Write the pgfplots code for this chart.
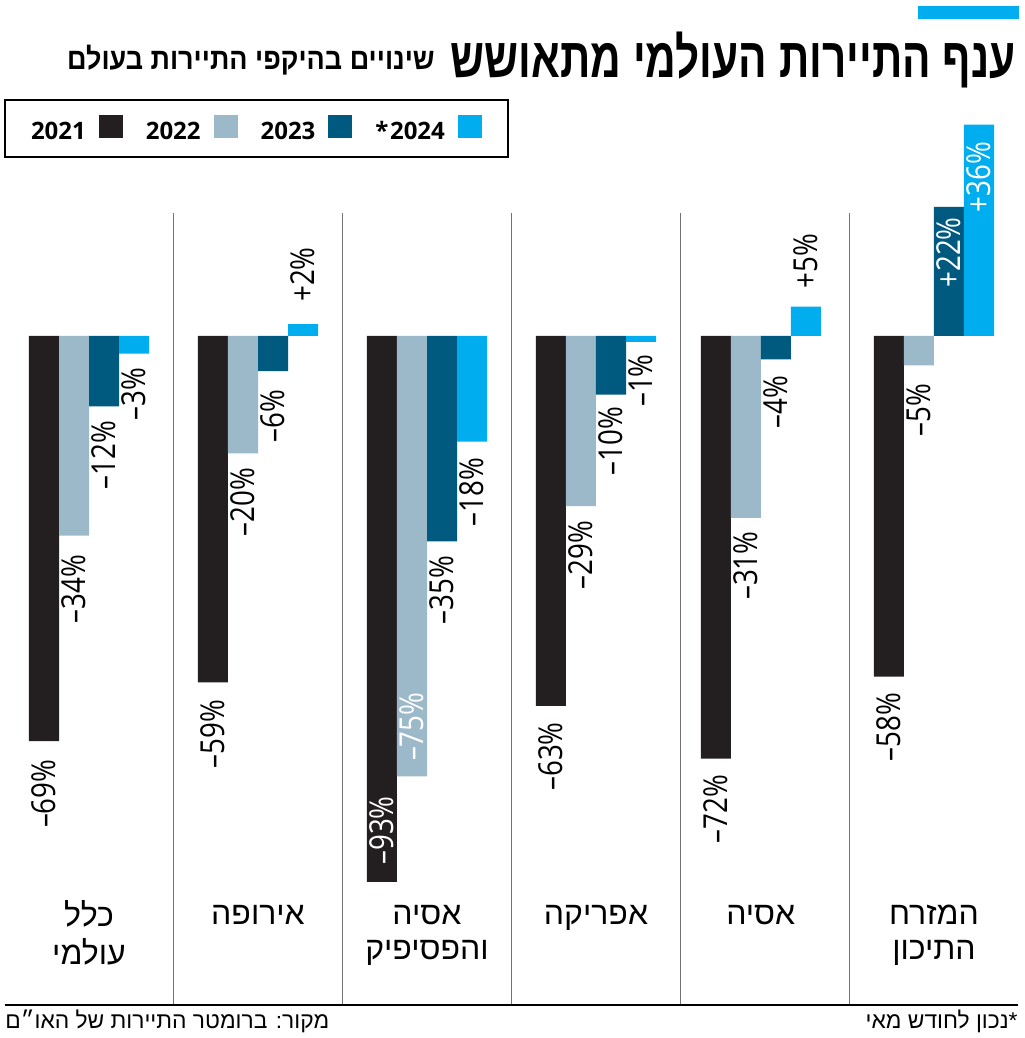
\documentclass[border=0pt]{standalone}
\usepackage{fontspec}
\usepackage{pgfplots}
\usepackage{pgfplotstable}
\pgfplotsset{compat=1.18}
\TeXXeTstate=1
\newfontfamily\hebfont[Script=Hebrew]{Liberation Sans}
\newfontfamily\hebtitle[Script=Hebrew,FakeStretch=0.755]{Liberation Sans}
\newfontfamily\hebsub[Script=Hebrew,FakeStretch=0.9]{Liberation Sans}
\newfontfamily\labfont[FakeStretch=0.84]{Open Sans}
\newfontfamily\legfont{Open Sans}
\definecolor{cA}{HTML}{231F20}
\definecolor{cB}{HTML}{9CB9CA}
\definecolor{cC}{HTML}{005A80}
\definecolor{cD}{HTML}{00AEEF}

% k: 0 = anchor east, 1 = anchor west ; w: 0 = black text, 1 = white text
\pgfplotstableread{
x y lab k w sep
0 -69 –69\% 0 0 9
1 -59 –59\% 0 0 8.5
2 -93 –93\% 1 1 8.5
3 -63 –63\% 0 0 8
3.975 -72 –72\% 0 0 8
5 -58 –58\% 0 0 8
}\tA
\pgfplotstableread{
x y lab k w sep
0 -34 –34\% 0 0 9.5
1 -20 –20\% 0 0 7
2 -75 –75\% 1 1 7.5
3 -29 –29\% 0 0 7
3.975 -31 –31\% 0 0 6.5
5 -5 –5\% 0 0 9
}\tB
\pgfplotstableread{
x y lab k w sep
0 -12 –12\% 0 0 7
1 -6 –6\% 0 0 9
2 -35 –35\% 0 0 7
3 -10 –10\% 0 0 6
3.975 -4 –4\% 0 0 8
5 22 +22\% 0 1 5
}\tC
\pgfplotstableread{
x y lab k w sep
0 -3 –3\% 0 0 7
1 2 +2\% 1 0 11
2 -18 –18\% 0 0 8
3 -1 –1\% 0 0 6
3.975 5 +5\% 1 0 9
5 36 +36\% 0 1 8.5
}\tD

\begin{document}
\begin{tikzpicture}[x=1pt,y=1pt]
\path[use as bounding box] (0,0) rectangle (512,519);
\fill[cD] (459,509.5) rectangle (509.5,516);
\node[anchor=base east, inner sep=0pt, font=\hebtitle\bfseries\fontsize{28}{30}\selectfont] at (508,480) {\beginR ענף התיירות העולמי מתאושש\endR};
\node[anchor=base east, inner sep=0pt, font=\hebsub\bfseries\fontsize{15}{17}\selectfont] at (217.5,484) {\beginR שינויים בהיקפי התיירות בעולם\endR};
\begin{axis}[
  at={(2.25pt,16.5pt)}, anchor=south west,
  scale only axis, width=507pt, height=396pt,
  xmin=-0.5, xmax=5.5, ymin=-113.95, ymax=20.95,
  clip=false,
  ybar=0pt, bar width=15pt,
  axis x line=bottom, axis y line=none,
  x axis line style={-, line width=1.2pt, black},
  xtick={0,1,2,3,3.975,5},
  xticklabels={
    {\strut\beginR כלל\endR\\\beginR עולמי\endR},
    {\strut\beginR אירופה\endR},
    {\strut\beginR אסיה\endR\\\beginR והפסיפיק\endR},
    {\strut\beginR אפריקה\endR},
    {\strut\beginR אסיה\endR},
    {\strut\beginR המזרח\endR\\\beginR התיכון\endR}},
  major tick length=0pt, minor tick length=0pt,
  minor xtick={0.5,1.5,2.5,3.5,4.5},
  xminorgrids=true,
  minor grid style={draw=black!55, line width=0.5pt},
  xticklabel style={font=\hebfont\fontsize{16}{17.5}\selectfont, align=center, anchor=north, inner sep=0pt, yshift=52.6pt},
  point meta=explicit symbolic,
  nodes near coords={\pgfplotspointmeta},
  visualization depends on={\thisrow{k} \as \myk},
  visualization depends on={\thisrow{w} \as \myw},
  visualization depends on={\thisrow{sep} \as \mysep},
  nodes near coords style={rotate=90,
     anchor=\ifdim\myk pt>0.5pt west\else east\fi,
     text=\ifdim\myw pt>0.5pt white\else black\fi,
     inner xsep=\mysep pt, inner ysep=0pt, font=\labfont\fontsize{16.5}{18}\selectfont},
  legend plot pos=right, legend columns=4,
  legend style={at={(0,1)}, anchor=south west, xshift=-0.25pt, yshift=27.5pt,
    draw=black, line width=1pt, inner xsep=13pt, inner ysep=7.25pt,
    font=\legfont\bfseries\fontsize{12}{13}\selectfont,
    legend cell align=left,
    /tikz/every odd column/.append style={column sep=6.5pt},
    /tikz/every even column/.append style={column sep=11.5pt},
    nodes={inner sep=0pt}},
  sqleg/.style={legend image code/.code={\path[##1, draw=none] (0pt,-3pt) rectangle (12pt,8.5pt);}},
]
\addplot[fill=cA, draw=none, sqleg] table[x=x,y=y,meta=lab] {\tA};
\addplot[fill=cB, draw=none, sqleg] table[x=x,y=y,meta=lab] {\tB};
\addplot[fill=cC, draw=none, sqleg] table[x=x,y=y,meta=lab] {\tC};
\addplot[fill=cD, draw=none, sqleg] table[x=x,y=y,meta=lab] {\tD};
\legend{2021,2022,2023,*\hspace{0.8pt}2024}
\end{axis}
\node[anchor=base east, inner sep=0pt, font=\hebfont\fontsize{11.4}{13}\selectfont] at (509,5) {\beginR *נכון לחודש מאי\endR};
\node[anchor=base west, inner sep=0pt, font=\hebfont\fontsize{11.4}{13}\selectfont] at (2.5,5) {\beginR מקור: ברומטר התיירות של האו״ם\endR};
\end{tikzpicture}
\end{document}
